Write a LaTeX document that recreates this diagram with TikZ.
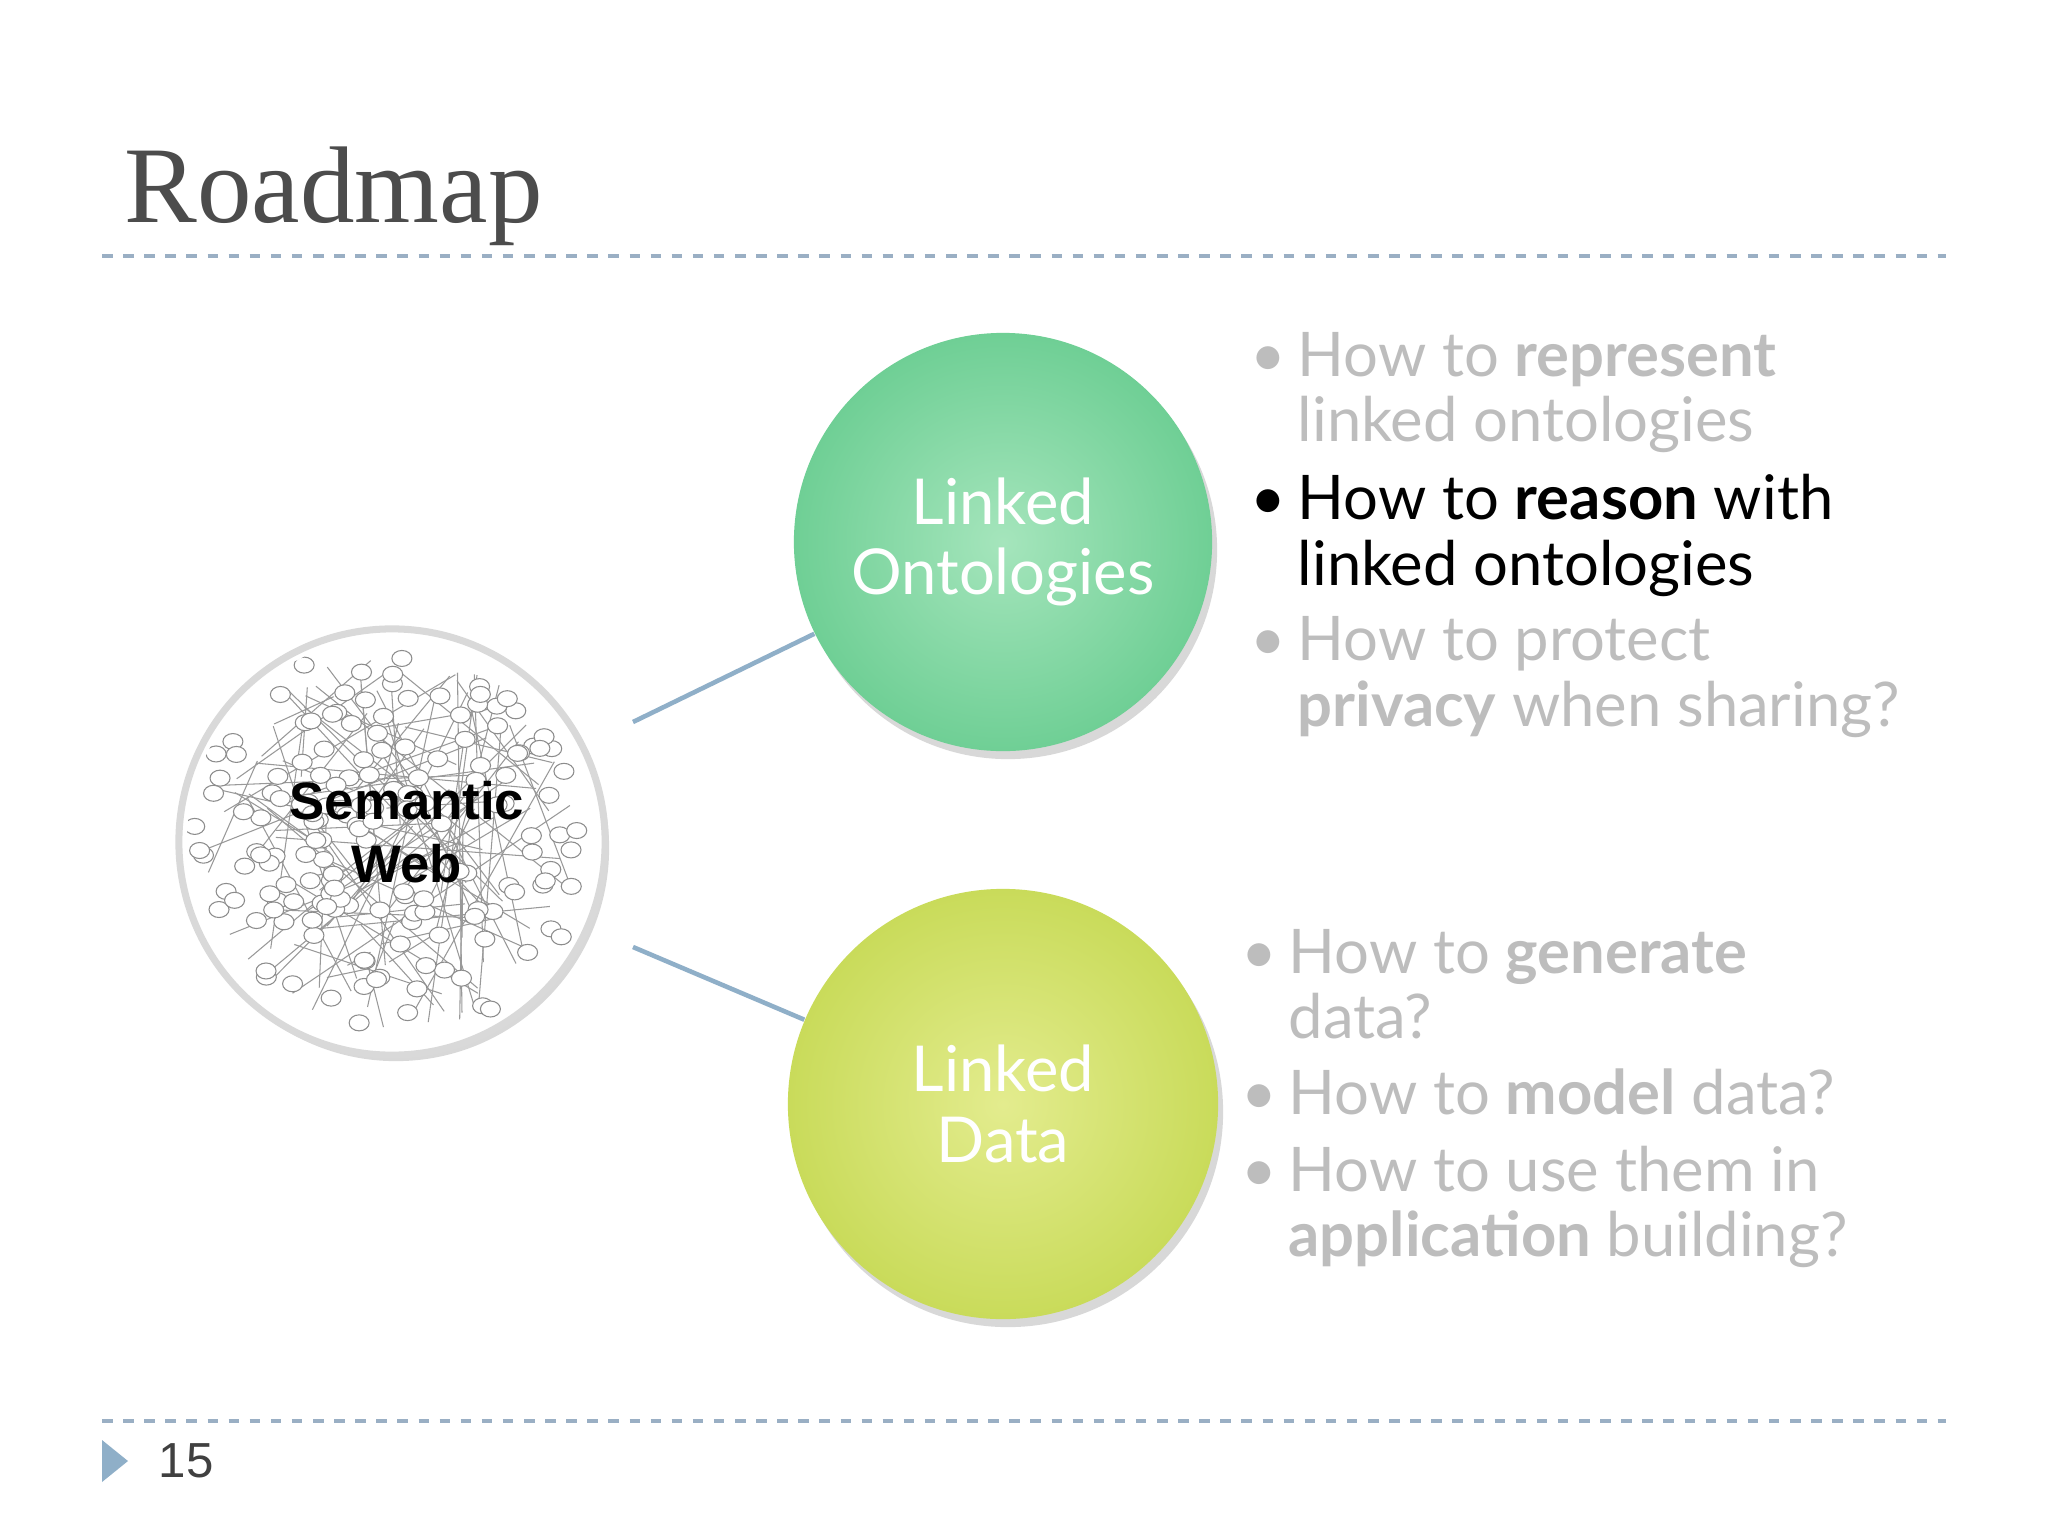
\documentclass[tikz,border=0pt]{standalone}
\usepackage{fontspec}
\setmainfont{Lato}
\newfontfamily\titlefont{Liberation Serif}
\newfontfamily\arialfont{Liberation Sans}
\usetikzlibrary{shadows,calc}
\definecolor{dashc}{HTML}{9AAFC4}
\definecolor{ltgray}{HTML}{BDBDBD}
\definecolor{greenA}{HTML}{6FCF95}
\definecolor{greenB}{HTML}{A5E5BC}
\definecolor{yelA}{HTML}{C9DB5A}
\definecolor{yelB}{HTML}{E3EC8E}
\definecolor{connc}{HTML}{8FAFC8}
\tikzset{
 dline/.style={dashc,dashed,line width=1pt},
 bigc/.style={circle,inner sep=0pt,text=white,align=center,font=\fontsize{18}{20}\selectfont,drop shadow={opacity=0.3,shadow xshift=0.05cm,shadow yshift=-0.08cm}},
 conn/.style={connc,line width=1.3pt},
 itm/.style={anchor=base west,font=\fontsize{17.5}{20}\selectfont,inner sep=0},
}
\begin{document}
\begin{tikzpicture}[x=0.01cm,y=-0.01cm]
\useasboundingbox (0,0) rectangle (2048,1536);
\fill[white] (0,0) rectangle (2048,1536);
\node[anchor=base west,inner sep=0,text=black!70,font=\titlefont\fontsize{31}{36}\selectfont] (title) at (124,222) {Roadmap};
\draw[dline] (102,256) -- (1946,256);
\draw[dline] (102,1421) -- (1946,1421);
\fill[connc] (102,1440) -- (128,1461) -- (102,1482) -- cycle;
\node[anchor=west,inner sep=0,text=black!75,font=\arialfont\fontsize{14}{16}\selectfont] (pg) at (158,1461) {15};
% semantic web
\node[circle,minimum size=4.26cm,fill=white,draw=black!15,line width=2pt,drop shadow={opacity=0.3,shadow xshift=0.04cm,shadow yshift=-0.06cm}] (sw) at (392,842) {};
\begin{scope}
\clip (392,842) circle (205);
\pgfmathsetseed{7}
\foreach \i in {1,...,90}{
 \pgfmathsetmacro{\a}{rnd*360}\pgfmathsetmacro{\r}{sqrt(rnd)*190}
 \pgfmathsetmacro{\b}{rnd*360}\pgfmathsetmacro{\s}{sqrt(rnd)*190}
 \draw[black!40,line width=0.3pt] ($(392,842)+(\a:\r*0.01cm)$) -- ($(392,842)+(\b:\s*0.01cm)$);
}
\foreach \i in {1,...,160}{
 \pgfmathsetmacro{\a}{rnd*360}\pgfmathsetmacro{\r}{sqrt(rnd)*198}
 \filldraw[fill=white,draw=black!45,line width=0.3pt] ($(392,842)+(\a:\r*0.01cm)$) ellipse (0.1cm and 0.08cm);
}
\end{scope}
\node[align=center,font=\arialfont\bfseries\fontsize{15}{18}\selectfont] (swt) at (407,832) {Semantic\\Web};
% circles
\node[bigc,minimum size=4.18cm,inner color=greenB,outer color=greenA] (lo) at (1003,542) {Linked\\Ontologies};
\node[bigc,minimum size=4.3cm,inner color=yelB,outer color=yelA] (ld) at (1003,1104) {Linked\\Data};
\coordinate (s1) at (633,722);\coordinate (s2) at (633,947);
\draw[conn] (s1) -- (lo);
\draw[conn] (s2) -- (ld);
% texts
\begin{scope}[text=ltgray]
\node[itm] (b1) at (1250,376) {•};
\node[itm] (t1) at (1297,376) {How to \textbf{represent}};
\node[itm] (t1b) at (1297,441) {linked ontologies};
\node[itm,text=black] (b2) at (1250,519) {•};
\node[itm,text=black] (t2) at (1297,519) {How to \textbf{reason} with};
\node[itm,text=black] (t2b) at (1297,585) {linked ontologies};
\node[itm] (b3) at (1250,660) {•};
\node[itm] (t3) at (1297,660) {How to protect};
\node[itm] (t3b) at (1297,726) {\textbf{privacy} when sharing?};
\node[itm] (b4) at (1241,973) {•};
\node[itm] (t4) at (1288,973) {How to \textbf{generate}};
\node[itm] (t4b) at (1288,1038) {data?};
\node[itm] (b5) at (1241,1114) {•};
\node[itm] (t5) at (1288,1114) {How to \textbf{model} data?};
\node[itm] (b6) at (1241,1191) {•};
\node[itm] (t6) at (1288,1191) {How to use them in};
\node[itm] (t6b) at (1288,1256) {\textbf{application} building?};
\end{scope}
\end{tikzpicture}
\end{document}
